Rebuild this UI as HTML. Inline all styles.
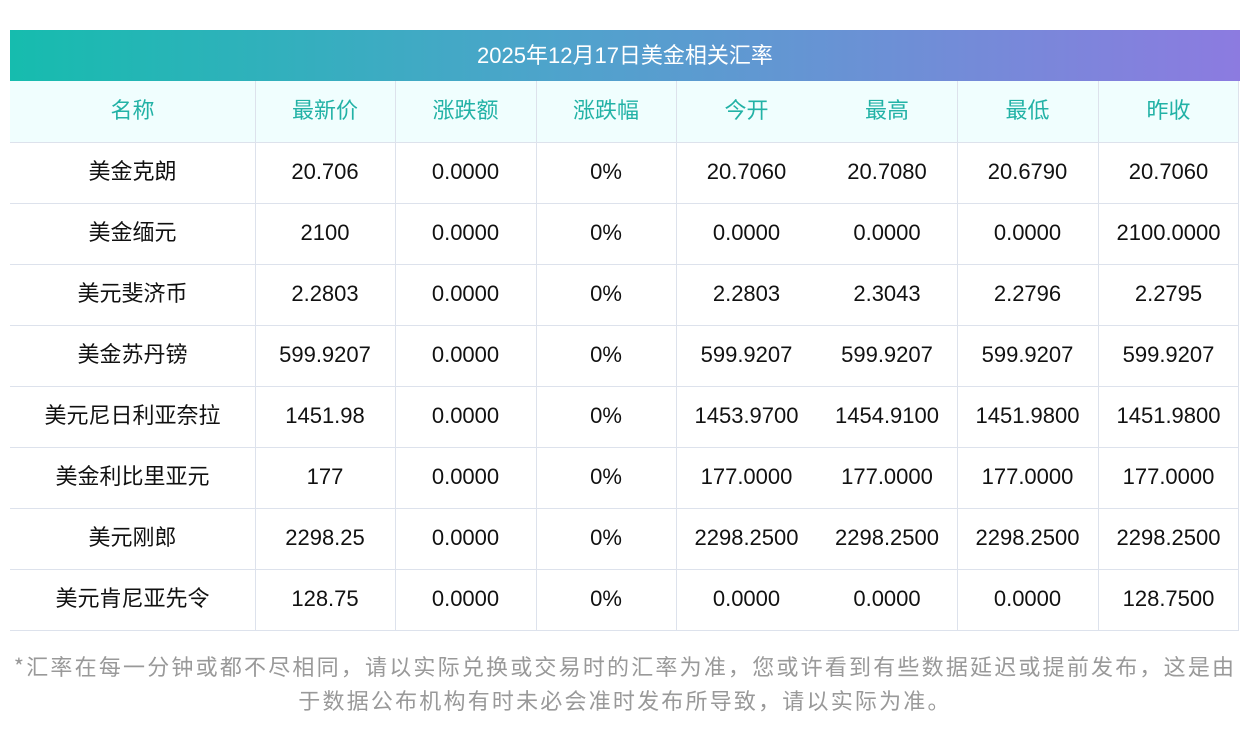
<!DOCTYPE html>
<html><head><meta charset="utf-8"><style>
body{margin:0;width:1250px;height:733px;background:#fff;position:relative;overflow:hidden;font-family:"Liberation Sans","Noto Sans CJK SC",sans-serif}
.t{position:absolute;left:10px;top:30px;width:1230px;height:51px;background:linear-gradient(90deg,#16bcae,#4fa3cc 45%,#8c7be0);color:#fff;font-size:22px;line-height:51px;text-align:center}
.hd{position:absolute;left:10px;top:81px;width:1229px;height:61px;background:#f0fefe}
.c{position:absolute;text-align:center;font-size:22px;line-height:61px;color:#111}
.h{color:#22b2a6}
.v{position:absolute;width:1px;background:#dde2ec;top:81px;height:549px}
.r{position:absolute;left:10px;width:1229px;height:1px;background:#dde2ec}
.f{position:absolute;left:0;width:1250px;text-align:center;color:#999;font-size:22px;letter-spacing:2.2px;font-family:"Noto Sans CJK SC",sans-serif;line-height:30px}
</style></head><body>
<div class="t">2025年12月17日美金相关汇率</div>
<div class="hd"></div>
<div class="v" style="left:255px"></div><div class="v" style="left:395px"></div><div class="v" style="left:536px"></div><div class="v" style="left:676px"></div><div class="v" style="left:957px"></div><div class="v" style="left:1098px"></div><div class="v" style="left:1238px"></div>
<div class="r" style="top:142px"></div><div class="r" style="top:203px"></div><div class="r" style="top:264px"></div><div class="r" style="top:325px"></div><div class="r" style="top:386px"></div><div class="r" style="top:447px"></div><div class="r" style="top:508px"></div><div class="r" style="top:569px"></div><div class="r" style="top:630px"></div>
<div id="g"></div>
<div class="f" style="top:651px">*汇率在每一分钟或都不尽相同，请以实际兑换或交易时的汇率为准，您或许看到有些数据延迟或提前发布，这是由</div>
<div class="f" style="top:685px">于数据公布机构有时未必会准时发布所导致，请以实际为准。</div>
<script>
var cols=[[10,255],[255,395],[395,536],[536,676],[676,817],[817,957],[957,1098],[1098,1239]];
var rows=[["名称","最新价","涨跌额","涨跌幅","今开","最高","最低","昨收"],
["美金克朗","20.706","0.0000","0%","20.7060","20.7080","20.6790","20.7060"],
["美金缅元","2100","0.0000","0%","0.0000","0.0000","0.0000","2100.0000"],
["美元斐济币","2.2803","0.0000","0%","2.2803","2.3043","2.2796","2.2795"],
["美金苏丹镑","599.9207","0.0000","0%","599.9207","599.9207","599.9207","599.9207"],
["美元尼日利亚奈拉","1451.98","0.0000","0%","1453.9700","1454.9100","1451.9800","1451.9800"],
["美金利比里亚元","177","0.0000","0%","177.0000","177.0000","177.0000","177.0000"],
["美元刚郎","2298.25","0.0000","0%","2298.2500","2298.2500","2298.2500","2298.2500"],
["美元肯尼亚先令","128.75","0.0000","0%","0.0000","0.0000","0.0000","128.7500"]];
var h="";
rows.forEach(function(r,i){r.forEach(function(t,j){h+='<div class="c'+(i==0?' h':'')+'" style="left:'+cols[j][0]+'px;width:'+(cols[j][1]-cols[j][0])+'px;top:'+(81+61*i-1)+'px">'+t+'</div>';});});
document.getElementById("g").innerHTML=h;
</script>
</body></html>
